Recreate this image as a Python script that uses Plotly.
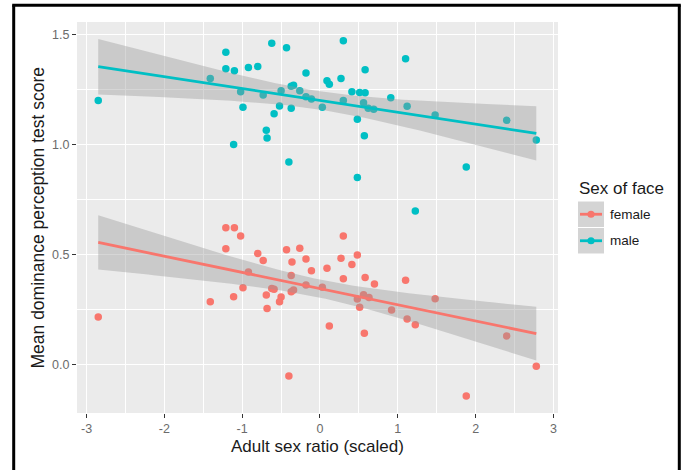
import numpy as np
import plotly.graph_objects as go

# ---------------- data ----------------
male_x = [-2.85, -1.41, -1.21, -1.21, -1.10, -1.02, -0.99, -1.11, -0.92, -0.80,
          -0.73, -0.62, -0.69, -0.68, -0.59, -0.52, -0.50, -0.43, -0.37, -0.34,
          -0.37, -0.40, -0.26, -0.18, -0.18, -0.11, 0.03, 0.09, 0.12, 0.30,
          0.27, 0.30, 0.41, 0.51, 0.58, 0.58, 0.56, 0.62, 0.69, 0.48,
          0.57, 0.48, 0.91, 1.10, 1.12, 1.48, 1.88, 1.225, 2.40, 2.78]
male_y = [1.20, 1.30, 1.42, 1.345, 1.335, 1.24, 1.17, 1.00, 1.35, 1.355,
          1.225, 1.46, 1.065, 1.03, 1.14, 1.175, 1.245, 1.44, 1.265, 1.27,
          1.165, 0.92, 1.245, 1.325, 1.217, 1.207, 1.17, 1.29, 1.274, 1.472,
          1.30, 1.20, 1.24, 1.237, 1.235, 1.34, 1.19, 1.165, 1.16, 1.115,
          1.04, 0.85, 1.213, 1.39, 1.174, 1.134, 0.898, 0.698, 1.11, 1.02]

female_x = [-2.85, -1.41, -1.21, -1.10, -1.02, -1.21, -1.11, -0.99, -0.92, -0.80,
            -0.73, -0.69, -0.68, -0.62, -0.59, -0.50, -0.52, -0.43, -0.36, -0.37,
            -0.37, -0.34, -0.40, -0.26, -0.18, -0.18, -0.11, 0.03, 0.09, 0.30,
            0.27, 0.30, 0.41, 0.48, 0.58, 0.70, 0.56, 0.48, 0.63, 0.51,
            0.12, 0.57, 0.92, 1.10, 1.12, 1.225, 1.48, 1.88, 2.40, 2.78]
female_y = [0.216, 0.285, 0.622, 0.622, 0.584, 0.526, 0.308, 0.349, 0.42, 0.505,
            0.473, 0.316, 0.254, 0.346, 0.342, 0.307, 0.285, 0.522, 0.466, 0.405,
            0.331, 0.339, -0.052, 0.528, 0.48, 0.361, 0.426, 0.351, 0.437, 0.584,
            0.483, 0.39, 0.455, 0.498, 0.396, 0.366, 0.317, 0.298, 0.305, 0.26,
            0.175, 0.142, 0.248, 0.383, 0.207, 0.181, 0.299, -0.143, 0.13, -0.008]

groups = ["female", "male"]
colors = {"female": "#F8766D", "male": "#00BFC4"}
x_ticks = [-3, -2, -1, 0, 1, 2, 3]
y_ticks = [0.0, 0.5, 1.0, 1.5]
y_tick_text = ["0.0", "0.5", "1.0", "1.5"]

x_title = "Adult sex ratio (scaled)"
y_title = "Mean dominance perception test score"
legend_title = "Sex of face"

data = {"female": (female_x, female_y), "male": (male_x, male_y)}

# ---------------- layout geometry ----------------
W, H = 682, 470
L, R, T, B = 77, 558, 22, 413   # panel pixel box


def px(x):
    return (x - L) / (R - L)


def py(y):
    return (B - y) / (B - T)


FONT = "Liberation Sans, Arial, Helvetica, sans-serif"
T_CRIT = 2.0106  # t(0.975, df=48)

fig = go.Figure()

# points first (ggplot draws the smooth over them)
for g in groups:
    xs, ys = data[g]
    fig.add_trace(go.Scatter(x=xs, y=ys, mode="markers",
                             marker=dict(color=colors[g], size=7.5, line=dict(width=0)),
                             showlegend=False, hoverinfo="skip"))

# linear fits with 95% confidence bands
for g in groups:
    xs, ys = np.array(data[g][0]), np.array(data[g][1])
    n = len(xs)
    b1, b0 = np.polyfit(xs, ys, 1)
    resid = ys - (b0 + b1 * xs)
    s = np.sqrt(np.sum(resid ** 2) / (n - 2))
    xbar = xs.mean()
    sxx = np.sum((xs - xbar) ** 2)
    grid = np.linspace(xs.min(), xs.max(), 80)
    fit = b0 + b1 * grid
    se = s * np.sqrt(1.0 / n + (grid - xbar) ** 2 / sxx)
    lo, hi = fit - T_CRIT * se, fit + T_CRIT * se
    fig.add_trace(go.Scatter(x=np.concatenate([grid, grid[::-1]]),
                             y=np.concatenate([hi, lo[::-1]]),
                             fill="toself", fillcolor="rgba(153,153,153,0.4)",
                             line=dict(width=0), mode="lines",
                             showlegend=False, hoverinfo="skip"))
    fig.add_trace(go.Scatter(x=grid, y=fit, mode="lines",
                             line=dict(color=colors[g], width=2.8),
                             showlegend=False, hoverinfo="skip"))

shapes = []
annotations = []

# outer black frame (three sides visible)
frame = dict(type="line", xref="paper", yref="paper", line=dict(color="black", width=3))
shapes.append(dict(frame, x0=px(13.7), x1=px(13.7), y0=py(5.3), y1=py(490)))
shapes.append(dict(frame, x0=px(679.3), x1=px(679.3), y0=py(5.3), y1=py(490)))
shapes.append(dict(frame, x0=px(12.2), x1=px(680.8), y0=py(5.3), y1=py(5.3)))

# manual legend (ggplot style keys)
annotations.append(dict(text=legend_title, xref="paper", yref="paper",
                        x=px(577), y=py(188), xanchor="left", yanchor="middle",
                        showarrow=False, font=dict(family=FONT, size=17, color="#1a1a1a")))
key_top = 201
key_h = 26.5
for i, g in enumerate(groups):
    y0 = key_top + i * key_h
    yc = y0 + key_h / 2
    shapes.append(dict(type="rect", xref="paper", yref="paper",
                       x0=px(578), x1=px(604), y0=py(y0 + 0.5), y1=py(y0 + key_h - 0.5),
                       fillcolor="#D4D4D4", line=dict(width=0)))
    shapes.append(dict(type="line", xref="paper", yref="paper",
                       x0=px(580), x1=px(602), y0=py(yc), y1=py(yc),
                       line=dict(color=colors[g], width=2.8)))
    shapes.append(dict(type="circle", xref="paper", yref="paper",
                       x0=px(591 - 3.6), x1=px(591 + 3.6), y0=py(yc - 3.6), y1=py(yc + 3.6),
                       fillcolor=colors[g], line=dict(width=0)))
    annotations.append(dict(text=g, xref="paper", yref="paper",
                            x=px(608), y=py(yc), xanchor="left", yanchor="middle",
                            showarrow=False, font=dict(family=FONT, size=13.5, color="#1a1a1a")))

# axis titles
annotations.append(dict(text=x_title, xref="paper", yref="paper",
                        x=0.5, y=py(446), xanchor="center", yanchor="middle",
                        showarrow=False, font=dict(family=FONT, size=17, color="#1a1a1a")))
annotations.append(dict(text=y_title, xref="paper", yref="paper",
                        x=px(37), y=0.5, xanchor="center", yanchor="middle", textangle=-90,
                        showarrow=False, font=dict(family=FONT, size=17.5, color="#1a1a1a")))

axis_common = dict(showline=False, zeroline=False, showgrid=True,
                   gridcolor="white", gridwidth=1.2,
                   ticks="outside", ticklen=4, tickwidth=1.1, tickcolor="#333333",
                   tickfont=dict(family=FONT, size=12.5, color="#6b6b6b"))

fig.update_layout(
    width=W, height=H,
    margin=dict(l=L, r=W - R, t=T, b=H - B, pad=0),
    paper_bgcolor="white", plot_bgcolor="#EBEBEB",
    showlegend=False,
    xaxis=dict(axis_common, range=[-3.123, 3.059], tickvals=x_ticks,
               ticktext=[str(v) for v in x_ticks],
               minor=dict(dtick=0.5, tick0=0, showgrid=True, gridcolor="white", gridwidth=0.6)),
    yaxis=dict(axis_common, range=[-0.2205, 1.557], tickvals=y_ticks, ticktext=y_tick_text,
               minor=dict(dtick=0.25, tick0=0, showgrid=True, gridcolor="white", gridwidth=0.6)),
    shapes=shapes,
    annotations=annotations,
)

fig.write_html("out.html",
               config={"displayModeBar": False},
               post_script="document.body.style.margin='0px';document.body.style.overflow='hidden';")
